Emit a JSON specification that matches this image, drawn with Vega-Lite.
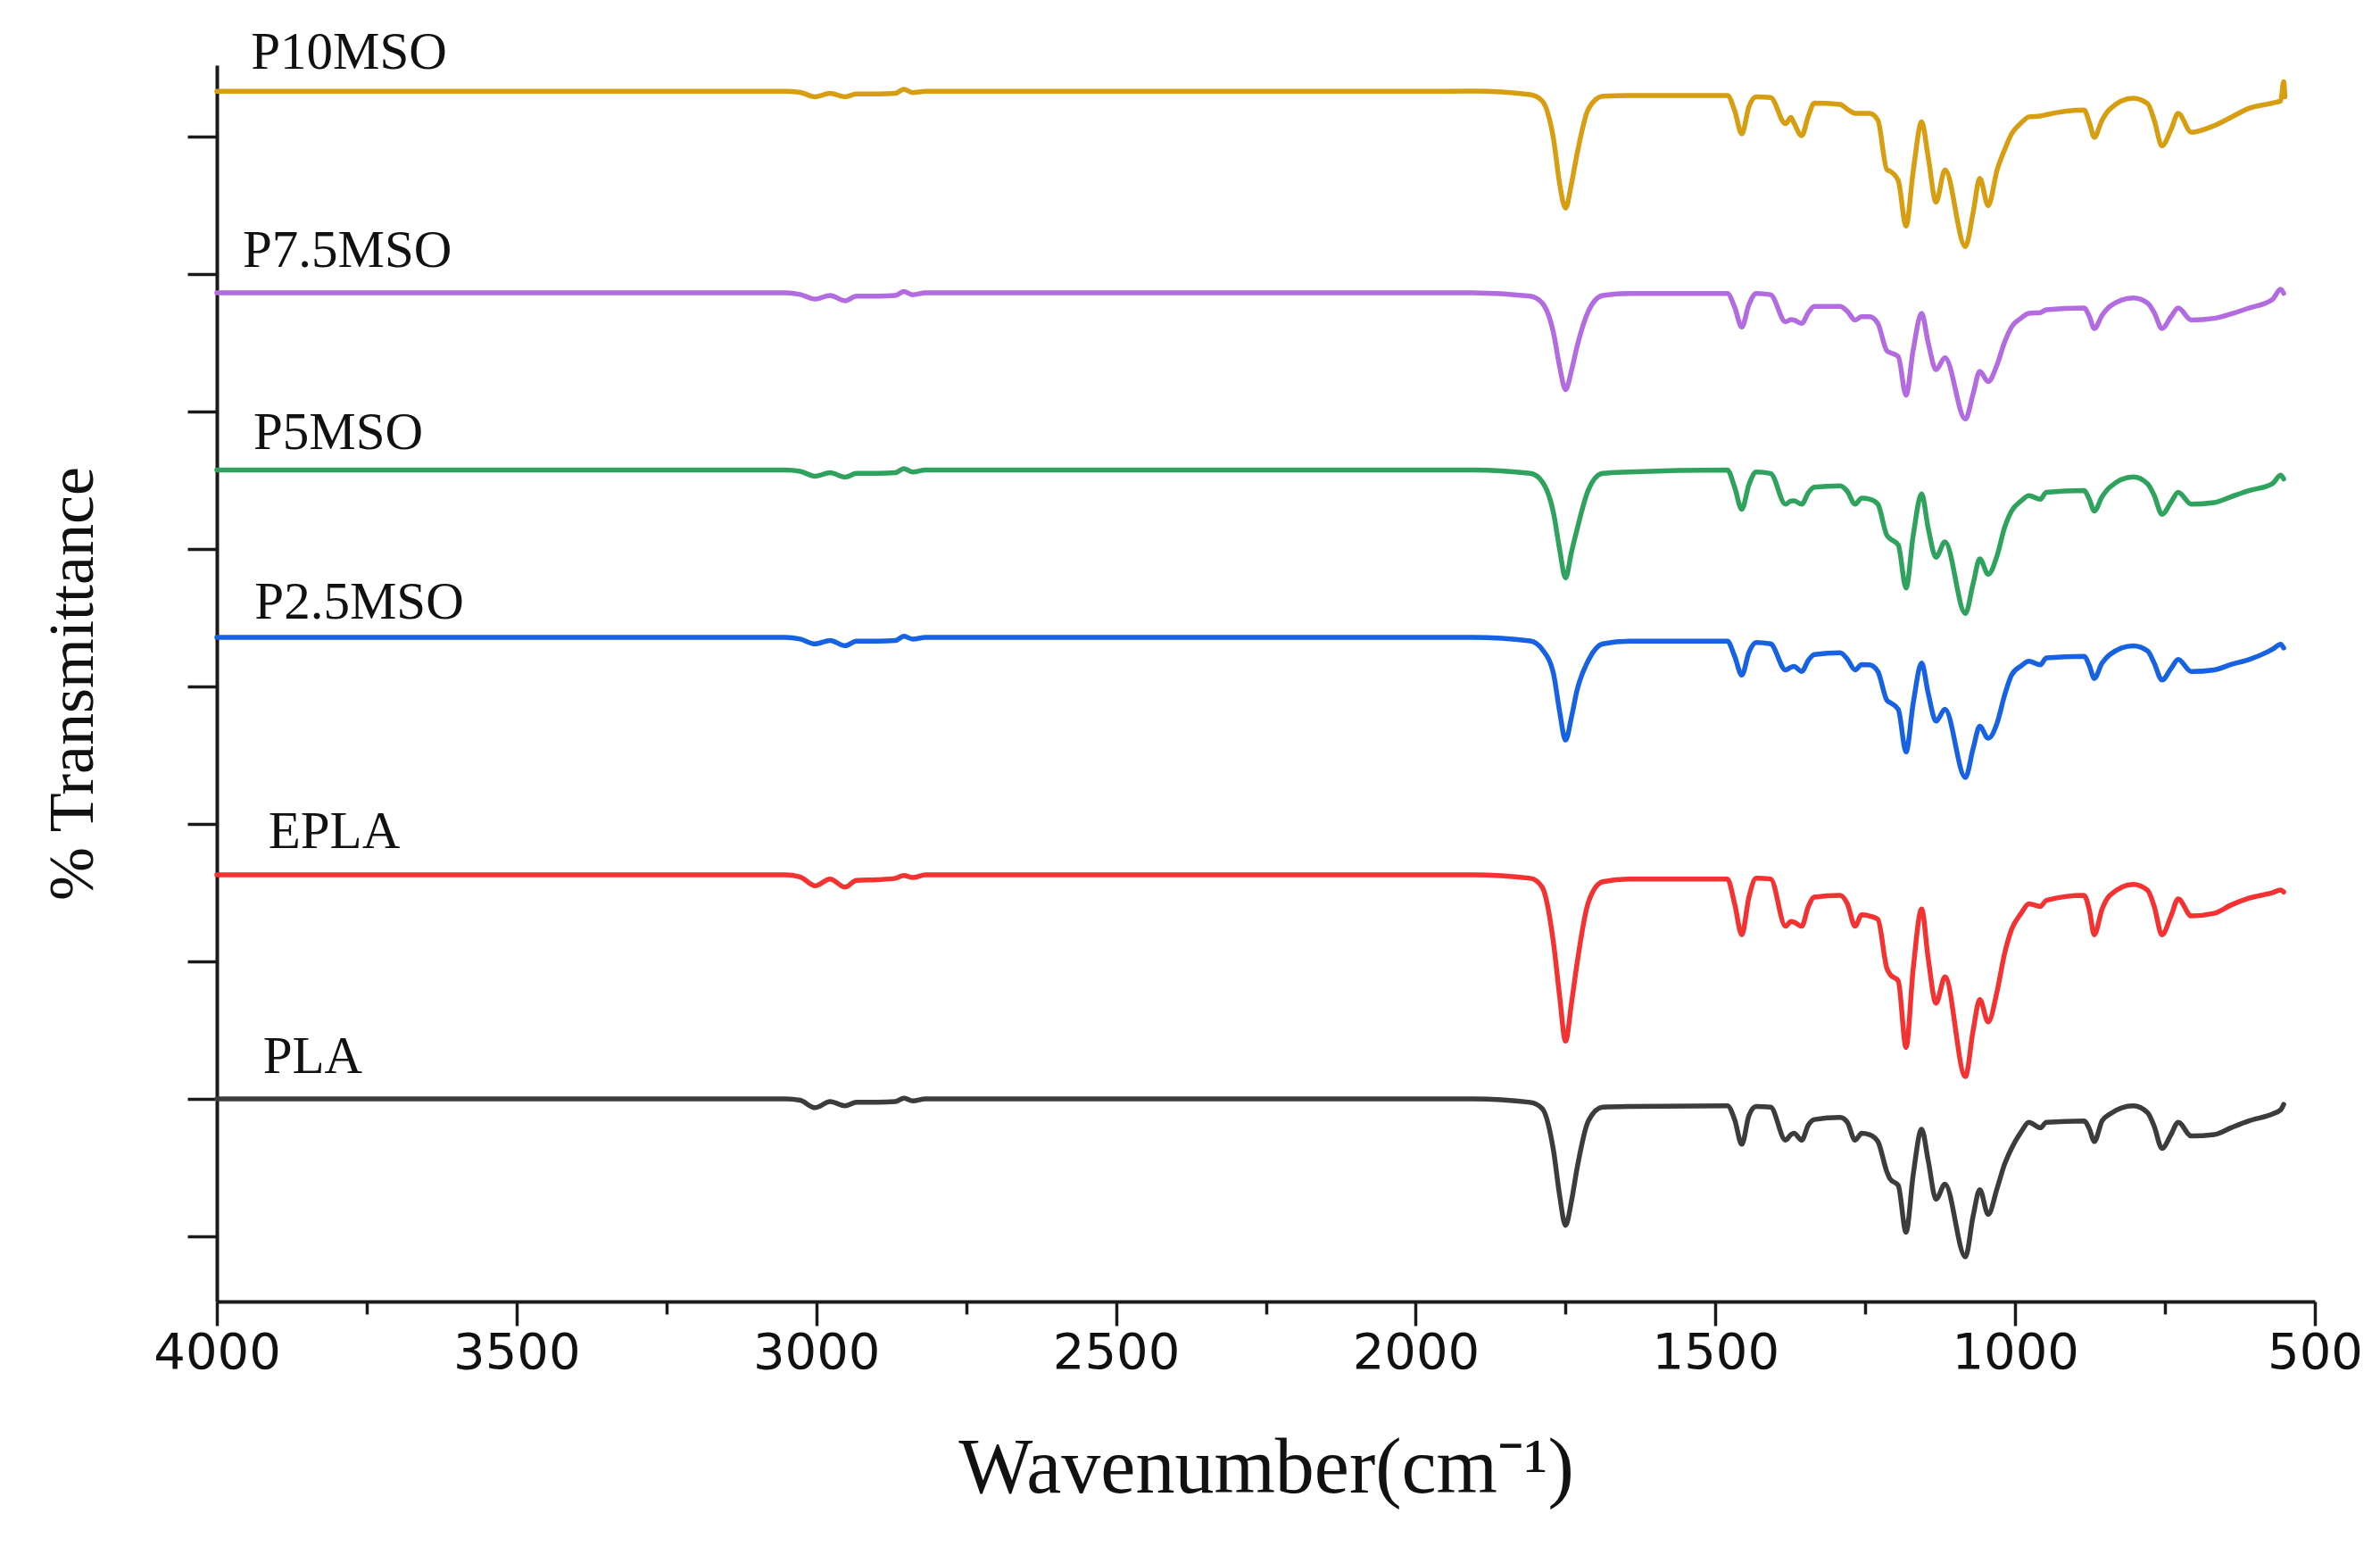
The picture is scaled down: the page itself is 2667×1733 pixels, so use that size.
{
"$schema": "https://vega.github.io/schema/vega-lite/v6.json",
"autosize": {"type": "none"},
"width": 2351, "height": 1385,
"padding": {"left": 243, "top": 73, "right": 73, "bottom": 275},
"background": "white",
"config": {
  "view": {"stroke": null},
  "axis": {"domainColor": "#1a1a1a", "tickColor": "#1a1a1a", "domainWidth": 4, "tickWidth": 3.5, "grid": false, "labelColor": "#111111", "titleColor": "#111111", "titleFontWeight": "normal"}
},
"datasets": {
"labels": [
  {"s": "P10MSO", "x": 3943, "y": 8.494},
  {"s": "P7.5MSO", "x": 3957, "y": 7.052},
  {"s": "P5MSO", "x": 3939, "y": 5.73},
  {"s": "P2.5MSO", "x": 3937, "y": 4.494},
  {"s": "EPLA", "x": 3914, "y": 2.825},
  {"s": "PLA", "x": 3923, "y": 1.191}
],
"spectra": [
{"s":"PLA","x":4000,"y":1.0},{"s":"PLA","x":3500,"y":1.0},{"s":"PLA","x":3052,"y":1.0},{"s":"PLA","x":3027,"y":0.99},{"s":"PLA","x":3002,"y":0.936},
{"s":"PLA","x":2977,"y":0.98},{"s":"PLA","x":2952,"y":0.95},{"s":"PLA","x":2933,"y":0.975},{"s":"PLA","x":2898,"y":0.975},{"s":"PLA","x":2868,"y":0.98},
{"s":"PLA","x":2854,"y":1.005},{"s":"PLA","x":2839,"y":0.985},{"s":"PLA","x":2818,"y":1.0},{"s":"PLA","x":2500,"y":1.0},{"s":"PLA","x":2000,"y":1.0},
{"s":"PLA","x":1905,"y":1.0},{"s":"PLA","x":1809,"y":0.975},{"s":"PLA","x":1789,"y":0.93},{"s":"PLA","x":1770,"y":0.62},{"s":"PLA","x":1760,"y":0.30},
{"s":"PLA","x":1750,"y":0.08},{"s":"PLA","x":1740,"y":0.26},{"s":"PLA","x":1731,"y":0.49},{"s":"PLA","x":1712,"y":0.84},{"s":"PLA","x":1688,"y":0.94},
{"s":"PLA","x":1644,"y":0.945},{"s":"PLA","x":1480,"y":0.95},{"s":"PLA","x":1468,"y":0.85},{"s":"PLA","x":1456,"y":0.67},{"s":"PLA","x":1444,"y":0.88},
{"s":"PLA","x":1432,"y":0.945},{"s":"PLA","x":1408,"y":0.94},{"s":"PLA","x":1383,"y":0.70},{"s":"PLA","x":1374,"y":0.74},{"s":"PLA","x":1369,"y":0.75},
{"s":"PLA","x":1356,"y":0.70},{"s":"PLA","x":1345,"y":0.81},{"s":"PLA","x":1335,"y":0.85},{"s":"PLA","x":1292,"y":0.865},{"s":"PLA","x":1280,"y":0.83},
{"s":"PLA","x":1267,"y":0.70},{"s":"PLA","x":1256,"y":0.75},{"s":"PLA","x":1243,"y":0.74},{"s":"PLA","x":1229,"y":0.69},{"s":"PLA","x":1214,"y":0.47},
{"s":"PLA","x":1209,"y":0.42},{"s":"PLA","x":1195,"y":0.37},{"s":"PLA","x":1182,"y":0.03},{"s":"PLA","x":1170,"y":0.45},{"s":"PLA","x":1156,"y":0.78},
{"s":"PLA","x":1145,"y":0.55},{"s":"PLA","x":1132,"y":0.27},{"s":"PLA","x":1117,"y":0.38},{"s":"PLA","x":1083,"y":-0.15},{"s":"PLA","x":1070,"y":0.15},
{"s":"PLA","x":1059,"y":0.34},{"s":"PLA","x":1045,"y":0.16},{"s":"PLA","x":1030,"y":0.35},{"s":"PLA","x":1018,"y":0.52},{"s":"PLA","x":1006,"y":0.64},
{"s":"PLA","x":990,"y":0.76},{"s":"PLA","x":977,"y":0.83},{"s":"PLA","x":958,"y":0.79},{"s":"PLA","x":948,"y":0.83},{"s":"PLA","x":885,"y":0.84},
{"s":"PLA","x":876,"y":0.78},{"s":"PLA","x":868,"y":0.69},{"s":"PLA","x":855,"y":0.84},{"s":"PLA","x":842,"y":0.89},{"s":"PLA","x":803,"y":0.95},
{"s":"PLA","x":779,"y":0.90},{"s":"PLA","x":768,"y":0.80},{"s":"PLA","x":755,"y":0.64},{"s":"PLA","x":740,"y":0.74},{"s":"PLA","x":728,"y":0.83},
{"s":"PLA","x":706,"y":0.73},{"s":"PLA","x":668,"y":0.74},{"s":"PLA","x":640,"y":0.79},{"s":"PLA","x":610,"y":0.84},{"s":"PLA","x":571,"y":0.89},
{"s":"PLA","x":557,"y":0.92},{"s":"PLA","x":552,"y":0.96},

{"s":"EPLA","x":4000,"y":2.63},{"s":"EPLA","x":3500,"y":2.63},{"s":"EPLA","x":3052,"y":2.63},{"s":"EPLA","x":3027,"y":2.615},{"s":"EPLA","x":3002,"y":2.55},
{"s":"EPLA","x":2977,"y":2.60},{"s":"EPLA","x":2952,"y":2.54},{"s":"EPLA","x":2933,"y":2.59},{"s":"EPLA","x":2898,"y":2.595},{"s":"EPLA","x":2868,"y":2.605},
{"s":"EPLA","x":2854,"y":2.625},{"s":"EPLA","x":2839,"y":2.61},{"s":"EPLA","x":2818,"y":2.63},{"s":"EPLA","x":2500,"y":2.63},{"s":"EPLA","x":2000,"y":2.63},
{"s":"EPLA","x":1905,"y":2.63},{"s":"EPLA","x":1809,"y":2.605},{"s":"EPLA","x":1789,"y":2.54},{"s":"EPLA","x":1770,"y":2.13},{"s":"EPLA","x":1760,"y":1.75},
{"s":"EPLA","x":1750,"y":1.42},{"s":"EPLA","x":1740,"y":1.70},{"s":"EPLA","x":1731,"y":1.98},{"s":"EPLA","x":1712,"y":2.43},{"s":"EPLA","x":1688,"y":2.58},
{"s":"EPLA","x":1644,"y":2.60},{"s":"EPLA","x":1480,"y":2.60},{"s":"EPLA","x":1468,"y":2.42},{"s":"EPLA","x":1456,"y":2.194},{"s":"EPLA","x":1444,"y":2.47},
{"s":"EPLA","x":1432,"y":2.605},{"s":"EPLA","x":1408,"y":2.60},{"s":"EPLA","x":1383,"y":2.256},{"s":"EPLA","x":1374,"y":2.29},{"s":"EPLA","x":1369,"y":2.286},
{"s":"EPLA","x":1356,"y":2.256},{"s":"EPLA","x":1345,"y":2.40},{"s":"EPLA","x":1335,"y":2.468},{"s":"EPLA","x":1292,"y":2.48},{"s":"EPLA","x":1280,"y":2.42},
{"s":"EPLA","x":1267,"y":2.256},{"s":"EPLA","x":1256,"y":2.34},{"s":"EPLA","x":1243,"y":2.331},{"s":"EPLA","x":1229,"y":2.306},{"s":"EPLA","x":1214,"y":1.95},
{"s":"EPLA","x":1209,"y":1.908},{"s":"EPLA","x":1195,"y":1.858},{"s":"EPLA","x":1182,"y":1.374},{"s":"EPLA","x":1170,"y":1.95},{"s":"EPLA","x":1156,"y":2.381},
{"s":"EPLA","x":1145,"y":2.02},{"s":"EPLA","x":1132,"y":1.697},{"s":"EPLA","x":1117,"y":1.888},{"s":"EPLA","x":1083,"y":1.163},{"s":"EPLA","x":1070,"y":1.50},
{"s":"EPLA","x":1059,"y":1.722},{"s":"EPLA","x":1045,"y":1.56},{"s":"EPLA","x":1030,"y":1.784},{"s":"EPLA","x":1018,"y":2.05},{"s":"EPLA","x":1006,"y":2.232},
{"s":"EPLA","x":990,"y":2.35},{"s":"EPLA","x":977,"y":2.419},{"s":"EPLA","x":958,"y":2.40},{"s":"EPLA","x":948,"y":2.444},{"s":"EPLA","x":885,"y":2.48},
{"s":"EPLA","x":876,"y":2.37},{"s":"EPLA","x":868,"y":2.194},{"s":"EPLA","x":855,"y":2.38},{"s":"EPLA","x":842,"y":2.48},{"s":"EPLA","x":803,"y":2.561},
{"s":"EPLA","x":779,"y":2.518},{"s":"EPLA","x":768,"y":2.40},{"s":"EPLA","x":755,"y":2.194},{"s":"EPLA","x":740,"y":2.33},{"s":"EPLA","x":728,"y":2.455},
{"s":"EPLA","x":706,"y":2.331},{"s":"EPLA","x":668,"y":2.35},{"s":"EPLA","x":640,"y":2.41},{"s":"EPLA","x":610,"y":2.46},{"s":"EPLA","x":571,"y":2.50},
{"s":"EPLA","x":557,"y":2.52},{"s":"EPLA","x":552,"y":2.505},

{"s":"P2.5MSO","x":4000,"y":4.357},{"s":"P2.5MSO","x":3500,"y":4.357},{"s":"P2.5MSO","x":3052,"y":4.357},{"s":"P2.5MSO","x":3027,"y":4.345},{"s":"P2.5MSO","x":3002,"y":4.31},
{"s":"P2.5MSO","x":2977,"y":4.335},{"s":"P2.5MSO","x":2952,"y":4.297},{"s":"P2.5MSO","x":2933,"y":4.33},{"s":"P2.5MSO","x":2898,"y":4.33},{"s":"P2.5MSO","x":2868,"y":4.335},
{"s":"P2.5MSO","x":2854,"y":4.365},{"s":"P2.5MSO","x":2839,"y":4.345},{"s":"P2.5MSO","x":2818,"y":4.357},{"s":"P2.5MSO","x":2500,"y":4.357},{"s":"P2.5MSO","x":2000,"y":4.357},
{"s":"P2.5MSO","x":1905,"y":4.357},{"s":"P2.5MSO","x":1809,"y":4.332},{"s":"P2.5MSO","x":1789,"y":4.27},{"s":"P2.5MSO","x":1770,"y":4.09},{"s":"P2.5MSO","x":1760,"y":3.82},
{"s":"P2.5MSO","x":1750,"y":3.61},{"s":"P2.5MSO","x":1740,"y":3.78},{"s":"P2.5MSO","x":1731,"y":3.97},{"s":"P2.5MSO","x":1712,"y":4.19},{"s":"P2.5MSO","x":1688,"y":4.31},
{"s":"P2.5MSO","x":1644,"y":4.33},{"s":"P2.5MSO","x":1480,"y":4.33},{"s":"P2.5MSO","x":1468,"y":4.22},{"s":"P2.5MSO","x":1456,"y":4.083},{"s":"P2.5MSO","x":1444,"y":4.25},
{"s":"P2.5MSO","x":1432,"y":4.32},{"s":"P2.5MSO","x":1408,"y":4.31},{"s":"P2.5MSO","x":1383,"y":4.121},{"s":"P2.5MSO","x":1374,"y":4.14},{"s":"P2.5MSO","x":1369,"y":4.146},
{"s":"P2.5MSO","x":1356,"y":4.109},{"s":"P2.5MSO","x":1345,"y":4.19},{"s":"P2.5MSO","x":1335,"y":4.232},{"s":"P2.5MSO","x":1292,"y":4.245},{"s":"P2.5MSO","x":1280,"y":4.20},
{"s":"P2.5MSO","x":1267,"y":4.121},{"s":"P2.5MSO","x":1256,"y":4.16},{"s":"P2.5MSO","x":1243,"y":4.158},{"s":"P2.5MSO","x":1229,"y":4.109},{"s":"P2.5MSO","x":1214,"y":3.90},
{"s":"P2.5MSO","x":1209,"y":3.884},{"s":"P2.5MSO","x":1195,"y":3.834},{"s":"P2.5MSO","x":1182,"y":3.524},{"s":"P2.5MSO","x":1170,"y":3.88},{"s":"P2.5MSO","x":1156,"y":4.17},
{"s":"P2.5MSO","x":1145,"y":3.95},{"s":"P2.5MSO","x":1132,"y":3.748},{"s":"P2.5MSO","x":1117,"y":3.835},{"s":"P2.5MSO","x":1083,"y":3.338},{"s":"P2.5MSO","x":1070,"y":3.55},
{"s":"P2.5MSO","x":1059,"y":3.711},{"s":"P2.5MSO","x":1045,"y":3.623},{"s":"P2.5MSO","x":1030,"y":3.735},{"s":"P2.5MSO","x":1018,"y":3.93},{"s":"P2.5MSO","x":1006,"y":4.083},
{"s":"P2.5MSO","x":990,"y":4.15},{"s":"P2.5MSO","x":977,"y":4.183},{"s":"P2.5MSO","x":958,"y":4.158},{"s":"P2.5MSO","x":948,"y":4.208},{"s":"P2.5MSO","x":885,"y":4.22},
{"s":"P2.5MSO","x":876,"y":4.15},{"s":"P2.5MSO","x":868,"y":4.059},{"s":"P2.5MSO","x":855,"y":4.17},{"s":"P2.5MSO","x":842,"y":4.232},{"s":"P2.5MSO","x":803,"y":4.295},
{"s":"P2.5MSO","x":779,"y":4.258},{"s":"P2.5MSO","x":768,"y":4.17},{"s":"P2.5MSO","x":755,"y":4.047},{"s":"P2.5MSO","x":740,"y":4.13},{"s":"P2.5MSO","x":728,"y":4.196},
{"s":"P2.5MSO","x":706,"y":4.109},{"s":"P2.5MSO","x":668,"y":4.121},{"s":"P2.5MSO","x":640,"y":4.16},{"s":"P2.5MSO","x":610,"y":4.196},{"s":"P2.5MSO","x":571,"y":4.27},
{"s":"P2.5MSO","x":557,"y":4.307},{"s":"P2.5MSO","x":552,"y":4.28},

{"s":"P5MSO","x":4000,"y":5.575},{"s":"P5MSO","x":3500,"y":5.575},{"s":"P5MSO","x":3052,"y":5.575},{"s":"P5MSO","x":3027,"y":5.565},{"s":"P5MSO","x":3002,"y":5.53},
{"s":"P5MSO","x":2977,"y":5.555},{"s":"P5MSO","x":2952,"y":5.523},{"s":"P5MSO","x":2933,"y":5.55},{"s":"P5MSO","x":2898,"y":5.55},{"s":"P5MSO","x":2868,"y":5.555},
{"s":"P5MSO","x":2854,"y":5.585},{"s":"P5MSO","x":2839,"y":5.56},{"s":"P5MSO","x":2818,"y":5.575},{"s":"P5MSO","x":2500,"y":5.575},{"s":"P5MSO","x":2000,"y":5.575},
{"s":"P5MSO","x":1905,"y":5.575},{"s":"P5MSO","x":1809,"y":5.55},{"s":"P5MSO","x":1789,"y":5.49},{"s":"P5MSO","x":1770,"y":5.26},{"s":"P5MSO","x":1760,"y":5.0},
{"s":"P5MSO","x":1750,"y":4.79},{"s":"P5MSO","x":1740,"y":4.98},{"s":"P5MSO","x":1731,"y":5.14},{"s":"P5MSO","x":1712,"y":5.43},{"s":"P5MSO","x":1688,"y":5.55},
{"s":"P5MSO","x":1644,"y":5.56},{"s":"P5MSO","x":1480,"y":5.575},{"s":"P5MSO","x":1468,"y":5.45},{"s":"P5MSO","x":1456,"y":5.289},{"s":"P5MSO","x":1444,"y":5.47},
{"s":"P5MSO","x":1432,"y":5.56},{"s":"P5MSO","x":1408,"y":5.55},{"s":"P5MSO","x":1383,"y":5.326},{"s":"P5MSO","x":1374,"y":5.35},{"s":"P5MSO","x":1369,"y":5.351},
{"s":"P5MSO","x":1356,"y":5.326},{"s":"P5MSO","x":1345,"y":5.41},{"s":"P5MSO","x":1335,"y":5.45},{"s":"P5MSO","x":1292,"y":5.46},{"s":"P5MSO","x":1280,"y":5.42},
{"s":"P5MSO","x":1267,"y":5.326},{"s":"P5MSO","x":1256,"y":5.37},{"s":"P5MSO","x":1243,"y":5.363},{"s":"P5MSO","x":1229,"y":5.326},{"s":"P5MSO","x":1214,"y":5.10},
{"s":"P5MSO","x":1209,"y":5.077},{"s":"P5MSO","x":1195,"y":5.03},{"s":"P5MSO","x":1182,"y":4.717},{"s":"P5MSO","x":1170,"y":5.10},{"s":"P5MSO","x":1156,"y":5.401},
{"s":"P5MSO","x":1145,"y":5.15},{"s":"P5MSO","x":1132,"y":4.941},{"s":"P5MSO","x":1117,"y":5.053},{"s":"P5MSO","x":1083,"y":4.531},{"s":"P5MSO","x":1070,"y":4.75},
{"s":"P5MSO","x":1059,"y":4.929},{"s":"P5MSO","x":1045,"y":4.816},{"s":"P5MSO","x":1030,"y":4.953},{"s":"P5MSO","x":1018,"y":5.15},{"s":"P5MSO","x":1006,"y":5.276},
{"s":"P5MSO","x":990,"y":5.35},{"s":"P5MSO","x":977,"y":5.388},{"s":"P5MSO","x":958,"y":5.363},{"s":"P5MSO","x":948,"y":5.413},{"s":"P5MSO","x":885,"y":5.425},
{"s":"P5MSO","x":876,"y":5.36},{"s":"P5MSO","x":868,"y":5.276},{"s":"P5MSO","x":855,"y":5.38},{"s":"P5MSO","x":842,"y":5.45},{"s":"P5MSO","x":803,"y":5.525},
{"s":"P5MSO","x":779,"y":5.475},{"s":"P5MSO","x":768,"y":5.39},{"s":"P5MSO","x":755,"y":5.252},{"s":"P5MSO","x":740,"y":5.34},{"s":"P5MSO","x":728,"y":5.413},
{"s":"P5MSO","x":706,"y":5.326},{"s":"P5MSO","x":668,"y":5.338},{"s":"P5MSO","x":640,"y":5.38},{"s":"P5MSO","x":610,"y":5.425},{"s":"P5MSO","x":571,"y":5.475},
{"s":"P5MSO","x":557,"y":5.537},{"s":"P5MSO","x":552,"y":5.51},

{"s":"P7.5MSO","x":4000,"y":6.864},{"s":"P7.5MSO","x":3500,"y":6.864},{"s":"P7.5MSO","x":3052,"y":6.864},{"s":"P7.5MSO","x":3027,"y":6.852},{"s":"P7.5MSO","x":3002,"y":6.818},
{"s":"P7.5MSO","x":2977,"y":6.845},{"s":"P7.5MSO","x":2952,"y":6.806},{"s":"P7.5MSO","x":2933,"y":6.84},{"s":"P7.5MSO","x":2898,"y":6.84},{"s":"P7.5MSO","x":2868,"y":6.845},
{"s":"P7.5MSO","x":2854,"y":6.874},{"s":"P7.5MSO","x":2839,"y":6.85},{"s":"P7.5MSO","x":2818,"y":6.864},{"s":"P7.5MSO","x":2500,"y":6.864},{"s":"P7.5MSO","x":2000,"y":6.864},
{"s":"P7.5MSO","x":1905,"y":6.864},{"s":"P7.5MSO","x":1809,"y":6.84},{"s":"P7.5MSO","x":1789,"y":6.79},{"s":"P7.5MSO","x":1770,"y":6.57},{"s":"P7.5MSO","x":1760,"y":6.33},
{"s":"P7.5MSO","x":1750,"y":6.16},{"s":"P7.5MSO","x":1740,"y":6.30},{"s":"P7.5MSO","x":1731,"y":6.47},{"s":"P7.5MSO","x":1712,"y":6.73},{"s":"P7.5MSO","x":1688,"y":6.845},
{"s":"P7.5MSO","x":1644,"y":6.86},{"s":"P7.5MSO","x":1480,"y":6.86},{"s":"P7.5MSO","x":1468,"y":6.76},{"s":"P7.5MSO","x":1456,"y":6.615},{"s":"P7.5MSO","x":1444,"y":6.78},
{"s":"P7.5MSO","x":1432,"y":6.86},{"s":"P7.5MSO","x":1408,"y":6.85},{"s":"P7.5MSO","x":1383,"y":6.653},{"s":"P7.5MSO","x":1374,"y":6.67},{"s":"P7.5MSO","x":1369,"y":6.666},
{"s":"P7.5MSO","x":1356,"y":6.641},{"s":"P7.5MSO","x":1345,"y":6.72},{"s":"P7.5MSO","x":1335,"y":6.765},{"s":"P7.5MSO","x":1292,"y":6.765},{"s":"P7.5MSO","x":1280,"y":6.73},
{"s":"P7.5MSO","x":1267,"y":6.666},{"s":"P7.5MSO","x":1256,"y":6.69},{"s":"P7.5MSO","x":1243,"y":6.69},{"s":"P7.5MSO","x":1229,"y":6.641},{"s":"P7.5MSO","x":1214,"y":6.442},
{"s":"P7.5MSO","x":1209,"y":6.43},{"s":"P7.5MSO","x":1195,"y":6.40},{"s":"P7.5MSO","x":1182,"y":6.119},{"s":"P7.5MSO","x":1170,"y":6.45},{"s":"P7.5MSO","x":1156,"y":6.715},
{"s":"P7.5MSO","x":1145,"y":6.50},{"s":"P7.5MSO","x":1132,"y":6.305},{"s":"P7.5MSO","x":1117,"y":6.392},{"s":"P7.5MSO","x":1083,"y":5.945},{"s":"P7.5MSO","x":1070,"y":6.13},
{"s":"P7.5MSO","x":1059,"y":6.293},{"s":"P7.5MSO","x":1045,"y":6.218},{"s":"P7.5MSO","x":1030,"y":6.342},{"s":"P7.5MSO","x":1018,"y":6.50},{"s":"P7.5MSO","x":1006,"y":6.615},
{"s":"P7.5MSO","x":990,"y":6.68},{"s":"P7.5MSO","x":977,"y":6.715},{"s":"P7.5MSO","x":958,"y":6.72},{"s":"P7.5MSO","x":948,"y":6.74},{"s":"P7.5MSO","x":885,"y":6.753},
{"s":"P7.5MSO","x":876,"y":6.69},{"s":"P7.5MSO","x":868,"y":6.604},{"s":"P7.5MSO","x":855,"y":6.70},{"s":"P7.5MSO","x":842,"y":6.765},{"s":"P7.5MSO","x":803,"y":6.827},
{"s":"P7.5MSO","x":779,"y":6.79},{"s":"P7.5MSO","x":768,"y":6.72},{"s":"P7.5MSO","x":755,"y":6.604},{"s":"P7.5MSO","x":740,"y":6.69},{"s":"P7.5MSO","x":728,"y":6.753},
{"s":"P7.5MSO","x":706,"y":6.666},{"s":"P7.5MSO","x":668,"y":6.678},{"s":"P7.5MSO","x":640,"y":6.71},{"s":"P7.5MSO","x":610,"y":6.753},{"s":"P7.5MSO","x":571,"y":6.815},
{"s":"P7.5MSO","x":557,"y":6.89},{"s":"P7.5MSO","x":552,"y":6.86},

{"s":"P10MSO","x":4000,"y":8.33},{"s":"P10MSO","x":3500,"y":8.33},{"s":"P10MSO","x":3052,"y":8.33},{"s":"P10MSO","x":3027,"y":8.322},{"s":"P10MSO","x":3002,"y":8.29},
{"s":"P10MSO","x":2977,"y":8.315},{"s":"P10MSO","x":2952,"y":8.29},{"s":"P10MSO","x":2933,"y":8.31},{"s":"P10MSO","x":2898,"y":8.31},{"s":"P10MSO","x":2868,"y":8.315},
{"s":"P10MSO","x":2854,"y":8.345},{"s":"P10MSO","x":2839,"y":8.32},{"s":"P10MSO","x":2818,"y":8.33},{"s":"P10MSO","x":2500,"y":8.33},{"s":"P10MSO","x":2000,"y":8.33},
{"s":"P10MSO","x":1905,"y":8.331},{"s":"P10MSO","x":1809,"y":8.306},{"s":"P10MSO","x":1789,"y":8.26},{"s":"P10MSO","x":1770,"y":7.98},{"s":"P10MSO","x":1760,"y":7.66},
{"s":"P10MSO","x":1750,"y":7.48},{"s":"P10MSO","x":1740,"y":7.66},{"s":"P10MSO","x":1731,"y":7.87},{"s":"P10MSO","x":1712,"y":8.2},{"s":"P10MSO","x":1688,"y":8.294},
{"s":"P10MSO","x":1644,"y":8.30},{"s":"P10MSO","x":1480,"y":8.30},{"s":"P10MSO","x":1468,"y":8.19},{"s":"P10MSO","x":1456,"y":8.02},{"s":"P10MSO","x":1444,"y":8.22},
{"s":"P10MSO","x":1432,"y":8.29},{"s":"P10MSO","x":1408,"y":8.285},{"s":"P10MSO","x":1383,"y":8.094},{"s":"P10MSO","x":1374,"y":8.14},{"s":"P10MSO","x":1369,"y":8.10},
{"s":"P10MSO","x":1356,"y":8.007},{"s":"P10MSO","x":1345,"y":8.15},{"s":"P10MSO","x":1335,"y":8.244},{"s":"P10MSO","x":1292,"y":8.235},{"s":"P10MSO","x":1280,"y":8.20},
{"s":"P10MSO","x":1267,"y":8.17},{"s":"P10MSO","x":1256,"y":8.17},{"s":"P10MSO","x":1243,"y":8.169},{"s":"P10MSO","x":1229,"y":8.12},{"s":"P10MSO","x":1214,"y":7.76},
{"s":"P10MSO","x":1209,"y":7.75},{"s":"P10MSO","x":1195,"y":7.68},{"s":"P10MSO","x":1182,"y":7.35},{"s":"P10MSO","x":1170,"y":7.75},{"s":"P10MSO","x":1156,"y":8.107},
{"s":"P10MSO","x":1145,"y":7.85},{"s":"P10MSO","x":1132,"y":7.523},{"s":"P10MSO","x":1117,"y":7.759},{"s":"P10MSO","x":1083,"y":7.20},{"s":"P10MSO","x":1070,"y":7.45},
{"s":"P10MSO","x":1059,"y":7.697},{"s":"P10MSO","x":1045,"y":7.498},{"s":"P10MSO","x":1030,"y":7.759},{"s":"P10MSO","x":1018,"y":7.90},{"s":"P10MSO","x":1006,"y":8.02},
{"s":"P10MSO","x":990,"y":8.10},{"s":"P10MSO","x":977,"y":8.144},{"s":"P10MSO","x":958,"y":8.15},{"s":"P10MSO","x":948,"y":8.16},{"s":"P10MSO","x":885,"y":8.193},
{"s":"P10MSO","x":876,"y":8.10},{"s":"P10MSO","x":868,"y":7.995},{"s":"P10MSO","x":855,"y":8.12},{"s":"P10MSO","x":842,"y":8.20},{"s":"P10MSO","x":803,"y":8.28},
{"s":"P10MSO","x":779,"y":8.24},{"s":"P10MSO","x":768,"y":8.12},{"s":"P10MSO","x":755,"y":7.933},{"s":"P10MSO","x":740,"y":8.05},{"s":"P10MSO","x":728,"y":8.169},
{"s":"P10MSO","x":706,"y":8.032},{"s":"P10MSO","x":668,"y":8.08},{"s":"P10MSO","x":640,"y":8.14},{"s":"P10MSO","x":610,"y":8.206},{"s":"P10MSO","x":571,"y":8.244},
{"s":"P10MSO","x":557,"y":8.26},{"s":"P10MSO","x":552,"y":8.40},{"s":"P10MSO","x":550,"y":8.29}
]
},
"resolve": {"axis": {"x": "independent"}},
"layer": [
  {
    "data": {"name": "spectra"},
    "mark": {"type": "line", "strokeWidth": 5.5, "strokeJoin": "round", "strokeCap": "round", "interpolate": "monotone"},
    "encoding": {
      "x": {"field": "x", "type": "quantitative",
            "scale": {"domain": [500, 4000], "reverse": true, "nice": false, "zero": false},
            "axis": {"orient": "bottom", "values": [4000, 3500, 3000, 2500, 2000, 1500, 1000, 500], "format": "d",
                     "tickSize": 27, "labelFont": "DejaVu Sans", "labelFontSize": 56, "labelPadding": 3,
                     "labelFlush": false, "labelOverlap": false,
                     "title": "Wavenumber(cm⁻¹)", "titleFont": "Liberation Serif", "titleFontSize": 88, "titlePadding": 58}},
      "y": {"field": "y", "type": "quantitative",
            "scale": {"domain": [-0.474, 8.52], "nice": false, "zero": false},
            "axis": {"values": [0, 1, 2, 3, 4, 5, 6, 7, 8], "labels": false, "tickSize": 33,
                     "title": "% Transmittance", "titleFont": "Liberation Serif", "titleFontSize": 72, "titlePadding": 90}},
      "color": {"field": "s", "type": "nominal", "legend": null,
                "scale": {"domain": ["P10MSO", "P7.5MSO", "P5MSO", "P2.5MSO", "EPLA", "PLA"],
                          "range": ["#D69E10", "#B26BE0", "#2FA35E", "#1762E3", "#F43232", "#3C3C3C"]}}
    }
  },
  {
    "data": {"name": "labels"},
    "mark": {"type": "text", "font": "Liberation Serif", "fontSize": 59, "align": "left", "baseline": "alphabetic", "color": "#111111"},
    "encoding": {
      "x": {"field": "x", "type": "quantitative",
            "axis": {"orient": "bottom", "values": [3750, 3250, 2750, 2250, 1750, 1250, 750], "tickSize": 14,
                     "labels": false, "domain": false, "title": null}},
      "y": {"field": "y", "type": "quantitative",
            "axis": {"values": [0, 1, 2, 3, 4, 5, 6, 7, 8], "labels": false, "tickSize": 33,
                     "title": "% Transmittance", "titleFont": "Liberation Serif", "titleFontSize": 72, "titlePadding": 90}},
      "text": {"field": "s"}
    }
  }
]
}
